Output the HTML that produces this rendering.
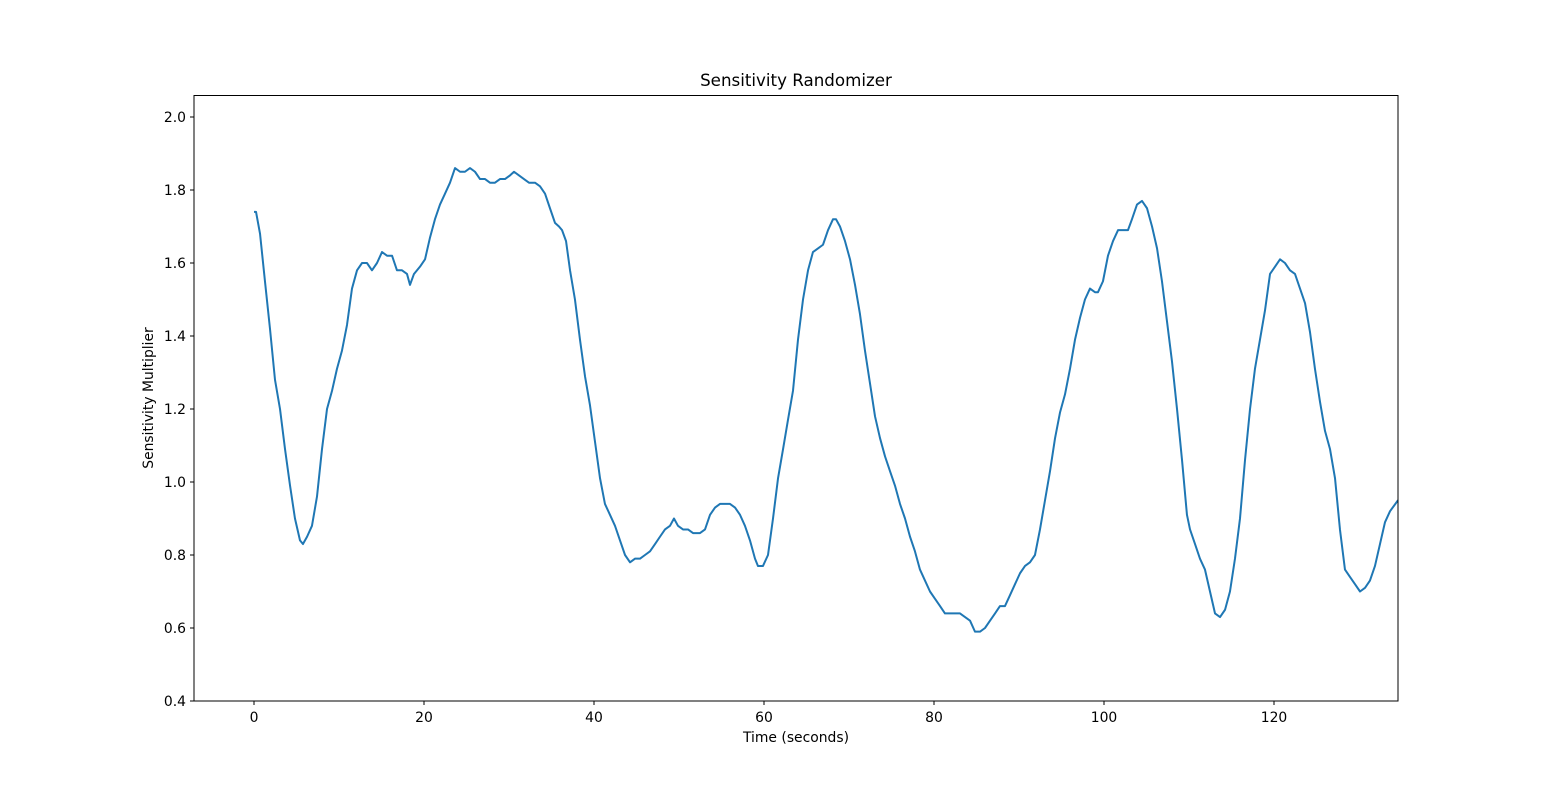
<!DOCTYPE html>
<html><head><meta charset="utf-8"><style>
body{margin:0;background:#fff;}
svg text{font-family:"DejaVu Sans","Liberation Sans",sans-serif;fill:#000;}
</style></head><body>
<svg id="chart" width="1553" height="788" xmlns="http://www.w3.org/2000/svg">
<rect width="1553" height="788" fill="#fff"/>
<defs><clipPath id="clip"><rect x="194" y="95.5" width="1204" height="605.5"/></clipPath></defs>
<g id="xticks"></g>
<g id="yticks"></g>
<path id="line" fill="none" stroke="#1f77b4" stroke-width="2" stroke-linejoin="round" clip-path="url(#clip)"/>
<rect x="194" y="95.5" width="1204" height="605.5" fill="none" stroke="#000" stroke-width="1"/>
<text x="796" y="86" font-size="16.7" text-anchor="middle">Sensitivity Randomizer</text>
<text x="796" y="742" font-size="13.9" text-anchor="middle">Time (seconds)</text>
<text transform="translate(153,398) rotate(-90)" font-size="13.9" text-anchor="middle">Sensitivity Multiplier</text>
</svg>
<script>
const times=[0,0.24,0.71,1.29,1.88,2.47,3.06,3.65,4.24,4.82,5.41,5.76,6.24,6.82,7.41,8.00,8.59,9.18,9.76,10.35,10.94,11.53,12.12,12.71,13.29,13.88,14.47,15.06,15.65,16.24,16.82,17.41,18.00,18.35,18.82,19.53,20.12,20.71,21.29,21.88,22.47,23.06,23.65,24.24,24.82,25.41,26.00,26.59,27.18,27.76,28.35,28.94,29.53,30.12,30.59,31.18,31.76,32.35,33.06,33.65,34.24,34.82,35.41,35.88,36.24,36.71,37.18,37.76,38.35,38.94,39.53,40.12,40.71,41.29,41.88,42.47,43.06,43.65,44.24,44.82,45.41,46.00,46.59,47.18,47.76,48.35,48.94,49.41,49.88,50.47,51.06,51.65,52.47,53.06,53.65,54.24,54.82,55.41,56.00,56.59,57.18,57.76,58.35,58.94,59.29,59.88,60.47,61.06,61.65,62.24,62.82,63.41,64.00,64.59,65.18,65.76,66.35,66.94,67.53,68.12,68.47,68.94,69.53,70.12,70.71,71.29,71.88,72.47,73.06,73.65,74.24,74.82,75.41,76.00,76.59,77.18,77.76,78.35,78.94,79.53,80.12,80.71,81.29,81.88,82.47,83.06,83.65,84.24,84.82,85.41,86.00,86.59,87.18,87.76,88.35,88.94,89.53,90.12,90.71,91.29,91.88,92.47,93.06,93.65,94.24,94.82,95.41,96.00,96.59,97.18,97.76,98.35,98.94,99.29,99.88,100.47,101.06,101.65,102.24,102.82,103.29,103.88,104.47,105.06,105.65,106.24,106.82,107.41,108.00,108.59,109.18,109.76,110.12,110.71,111.29,111.88,112.47,113.06,113.65,114.24,114.82,115.41,116.00,116.59,117.18,117.76,118.35,118.94,119.53,120.12,120.71,121.29,121.88,122.47,123.06,123.65,124.24,124.82,125.41,126.00,126.59,127.18,127.76,128.35,128.94,129.53,130.12,130.71,131.29,131.88,132.47,133.06,133.65,134.59];
const values=[1.74,1.74,1.68,1.55,1.42,1.28,1.20,1.09,0.99,0.90,0.84,0.83,0.85,0.88,0.96,1.09,1.20,1.25,1.31,1.36,1.43,1.53,1.58,1.60,1.60,1.58,1.60,1.63,1.62,1.62,1.58,1.58,1.57,1.54,1.57,1.59,1.61,1.67,1.72,1.76,1.79,1.82,1.86,1.85,1.85,1.86,1.85,1.83,1.83,1.82,1.82,1.83,1.83,1.84,1.85,1.84,1.83,1.82,1.82,1.81,1.79,1.75,1.71,1.70,1.69,1.66,1.58,1.50,1.39,1.29,1.21,1.11,1.01,0.94,0.91,0.88,0.84,0.80,0.78,0.79,0.79,0.80,0.81,0.83,0.85,0.87,0.88,0.90,0.88,0.87,0.87,0.86,0.86,0.87,0.91,0.93,0.94,0.94,0.94,0.93,0.91,0.88,0.84,0.79,0.77,0.77,0.80,0.90,1.01,1.09,1.17,1.25,1.39,1.50,1.58,1.63,1.64,1.65,1.69,1.72,1.72,1.70,1.66,1.61,1.54,1.46,1.36,1.27,1.18,1.12,1.07,1.03,0.99,0.94,0.90,0.85,0.81,0.76,0.73,0.70,0.68,0.66,0.64,0.64,0.64,0.64,0.63,0.62,0.59,0.59,0.60,0.62,0.64,0.66,0.66,0.69,0.72,0.75,0.77,0.78,0.80,0.87,0.95,1.03,1.12,1.19,1.24,1.31,1.39,1.45,1.50,1.53,1.52,1.52,1.55,1.62,1.66,1.69,1.69,1.69,1.72,1.76,1.77,1.75,1.70,1.64,1.55,1.44,1.33,1.20,1.06,0.91,0.87,0.83,0.79,0.76,0.70,0.64,0.63,0.65,0.70,0.79,0.90,1.06,1.20,1.31,1.39,1.47,1.57,1.59,1.61,1.60,1.58,1.57,1.53,1.49,1.41,1.31,1.22,1.14,1.09,1.01,0.87,0.76,0.74,0.72,0.70,0.71,0.73,0.77,0.83,0.89,0.92,0.95];
const xTicks=[0,20,40,60,80,100,120];
const yTicks=[0.4,0.6,0.8,1.0,1.2,1.4,1.6,1.8,2.0];
const xs=v=>254+v*8.5;
const ys=v=>701-(v-0.4)*365;
const NS='http://www.w3.org/2000/svg';
const xg=document.getElementById('xticks'),yg=document.getElementById('yticks');
xTicks.forEach(t=>{
  const l=document.createElementNS(NS,'line');
  
  
  l.setAttribute('x1',xs(t));l.setAttribute('x2',xs(t));l.setAttribute('y1',701);l.setAttribute('y2',705);l.setAttribute('stroke','#000');
  xg.appendChild(l);
  const tx=document.createElementNS(NS,'text');
  
  
  tx.setAttribute('x',xs(t));tx.setAttribute('y',722);tx.setAttribute('font-size','13.9');tx.setAttribute('text-anchor','middle');
  tx.textContent=t;xg.appendChild(tx);
});
yTicks.forEach(t=>{
  const l=document.createElementNS(NS,'line');
  
  
  l.setAttribute('x1',190);l.setAttribute('x2',194);l.setAttribute('y1',ys(t));l.setAttribute('y2',ys(t));l.setAttribute('stroke','#000');
  yg.appendChild(l);
  const tx=document.createElementNS(NS,'text');
  
  
  tx.setAttribute('x',186);tx.setAttribute('y',ys(t)+5);tx.setAttribute('font-size','13.9');tx.setAttribute('text-anchor','end');
  tx.textContent=t.toFixed(1);yg.appendChild(tx);
});
document.getElementById('line').setAttribute('d',times.map((t,i)=>(i?'L':'M')+xs(t).toFixed(2)+','+ys(values[i]).toFixed(2)).join(''));
</script>
</body></html>
